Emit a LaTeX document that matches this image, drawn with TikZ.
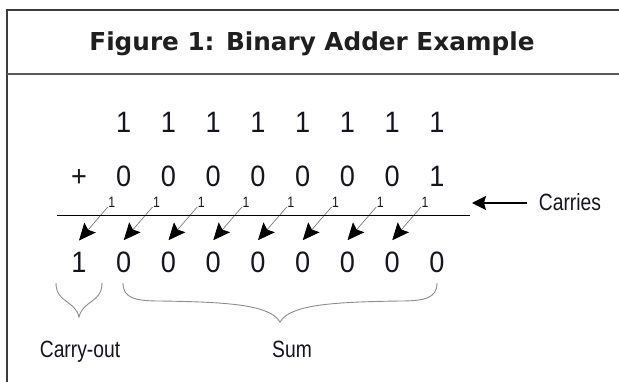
\documentclass[tikz,border=0pt]{standalone}
\usepackage{fontspec}
\setmainfont[FakeStretch=0.82]{Liberation Sans}
\newfontfamily\digitfont[FakeStretch=0.92]{Liberation Sans}
\newfontfamily\titlefont{DejaVu Sans}
\usetikzlibrary{arrows.meta}
\definecolor{boxline}{HTML}{3C3C3C}
\definecolor{thinarrow}{HTML}{7A7A7A}
\definecolor{bracecol}{HTML}{8C8C8C}
\definecolor{txt}{HTML}{151520}
\begin{document}
\begin{tikzpicture}[x=1pt,y=-1pt,
  digit/.style={anchor=base, inner sep=0pt, text=txt, font=\digitfont\fontsize{29.5}{29}\selectfont},
  carrylbl/.style={anchor=base, inner sep=0pt, text=txt, font=\fontsize{15}{15}\selectfont},
  lbl/.style={anchor=base, inner sep=0pt, text=txt, font=\fontsize{23.5}{23.5}\selectfont},
  carryarrow/.style={draw=thinarrow, line width=0.7pt, -{Stealth[length=17pt,width=15pt,inset=3pt,color=black]}},
  bigarrow/.style={draw=black, line width=1.3pt, -{Stealth[length=14pt,width=14pt,inset=2pt]}},
  bracestyle/.style={draw=bracecol, line width=0.9pt}]
\useasboundingbox (0,0) rectangle (619,381);
% frame
\draw[boxline, line width=1.5pt] (7,385) -- (7,10) -- (625,10);
\draw[boxline!85, line width=1.5pt] (7,74) -- (625,74);
\node[anchor=base, inner sep=0pt, text=black!88, font=\titlefont\bfseries\fontsize{24.7}{26}\selectfont] (title) at (312,50) {Figure 1: Binary Adder Example};
% rows
\foreach \k in {1,...,8} {
  \node[digit] (a\k) at ({79+44.75*\k},132) {1};
}
\node[digit] (plus) at (79,186) {+};
\foreach \k in {1,...,7} {
  \node[digit] (b\k) at ({79+44.75*\k},186) {0};
}
\node[digit] (b8) at ({79+44.75*8},186) {1};
\node[digit] (r0) at (79,272) {1};
\foreach \k in {1,...,8} {
  \node[digit] (r\k) at ({79+44.75*\k},272) {0};
}
% carries
\foreach \k in {1,...,8} {
  \pgfmathtruncatemacro{\km}{\k-1}
  \node[carrylbl] (c\k) at ({79+44.75*\k-12},207) {1};
  \coordinate (s\k) at ({79+44.75*\k-16},207);
  \draw[carryarrow] (s\k) -- ([yshift=11pt]r\km.north);
}
% sum line
\coordinate (lineL) at (57,215.5);
\coordinate (lineR) at (470,215.5);
\draw[black, line width=1.4pt] (lineL) -- (lineR);
\node[lbl] (carries) at (570,210) {Carries};
\coordinate (ctail) at (527,203);
\coordinate (chead) at (472,203);
\draw[bigarrow] (ctail) -- (chead);
% braces
\draw[bracestyle] (56,283) .. controls (56,303) and (75,300) .. (79,317)
                          .. controls (83,300) and (102,303) .. (102,283);
\draw[bracestyle] (123,283) .. controls (123,298) and (135,301) .. (160,301)
                            .. controls (230,302) and (270,305) .. (280,322)
                            .. controls (290,305) and (330,302) .. (400,301)
                            .. controls (425,301) and (437,298) .. (437,283);
\node[lbl] (carryout) at (80,357) {Carry-out};
\node[lbl] (sum) at (292,357) {Sum};
\end{tikzpicture}
\end{document}
